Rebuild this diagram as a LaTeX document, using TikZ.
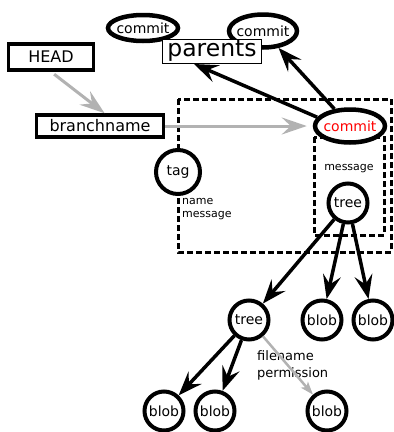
\documentclass[tikz,border=0pt]{standalone}
\usepackage{fontspec}
\setmainfont{DejaVu Sans}
\usetikzlibrary{arrows.meta}
\usetikzlibrary{shapes.geometric}

\tikzset{
  cmt/.style={ellipse, draw, fill=white, line width=4.5pt, inner sep=0pt, font=\fontsize{14}{16}\selectfont},
  obj/.style={circle, draw, fill=white, line width=4pt, minimum size=39pt, inner sep=0pt, font=\fontsize{14}{16}\selectfont},
  refbox/.style={draw, fill=white, line width=3.5pt, inner sep=0pt, font=\fontsize{16}{18}\selectfont},
  grp/.style={line width=3pt, dash pattern=on 6pt off 3pt},
  arr/.style={line width=3.5pt, -{Stealth[length=24pt, width=18pt, inset=9pt]}},
  ptr/.style={draw=black!30, line width=3pt, -{Stealth[length=25pt, width=17pt, inset=9pt]}},
  note/.style={inner sep=0pt, align=left}
}

\begin{document}
\begin{tikzpicture}[x=1pt,y=-1pt]
      \useasboundingbox (0,0) rectangle (394,432);
      % dashed groups
      \draw[grp] (178,99) rectangle (391,252);
      \draw[grp] (314,137) rectangle (384,235);
      % commits
      \node[cmt, minimum width=70pt, minimum height=26pt] (c1) at (143,28) {\makebox[0pt]{commit}};
      \node[cmt, minimum width=68pt, minimum height=33pt] (c2) at (263,31) {\makebox[0pt]{commit}};
      \node[cmt, minimum width=70pt, minimum height=33pt, text=red] (c3) at (350,126) {\makebox[0pt]{commit}};
      \node[draw, fill=white, line width=1pt, inner sep=0pt, minimum width=99pt, minimum height=24pt,
            font=\fontsize{23.5}{25}\selectfont] (pa) at (212,51) {parents};
      % refs
      \node[refbox, minimum width=85pt, minimum height=26pt] (hd) at (51,57) {HEAD};
      \node[refbox, minimum width=127pt, minimum height=22pt] (bn) at (100,126) {branchname};
      % objects
      \node[obj, minimum size=44pt] (tg) at (178,172) {tag};
      \node[obj] (t1) at (348,203) {tree};
      \node[obj] (t2) at (249,320) {tree};
      \node[obj] (b1) at (322,320) {blob};
      \node[obj] (b2) at (373,320) {blob};
      \node[obj] (b3) at (164,411) {blob};
      \node[obj] (b4) at (215,411) {blob};
      \node[obj] (b5) at (327,411) {blob};
      % labels
      \node[note, font=\fontsize{11}{14}\selectfont] (ml) at (349,169) {message};
      \node[note, anchor=north west, font=\fontsize{11}{13}\selectfont] (tl) at (182,198) {name\\message};
      \node[note, anchor=north west, font=\fontsize{13}{17}\selectfont] (fl) at (257,350) {filename\\permission};
      % pointers
      \draw[ptr, shorten <=4pt] (hd.south) -- (bn.70);
      \draw[ptr, shorten >=6pt] (bn) -- (c3);
      \draw[ptr, line width=2.5pt, -{Stealth[length=13pt, width=9pt, inset=3pt]}] (t2) -- (b5);
      % links
      \coordinate (p1) at (194,64);
      \draw[arr] (c3.165) -- (p1);
      \draw[arr] (c3) -- (c2);
      \draw[arr] (t1) -- (t2);
      \draw[arr] (t1) -- (b1);
      \draw[arr] (t1) -- (b2);
      \draw[arr] (t2) -- (b3);
      \draw[arr] (t2) -- (b4);
\end{tikzpicture}
\end{document}
